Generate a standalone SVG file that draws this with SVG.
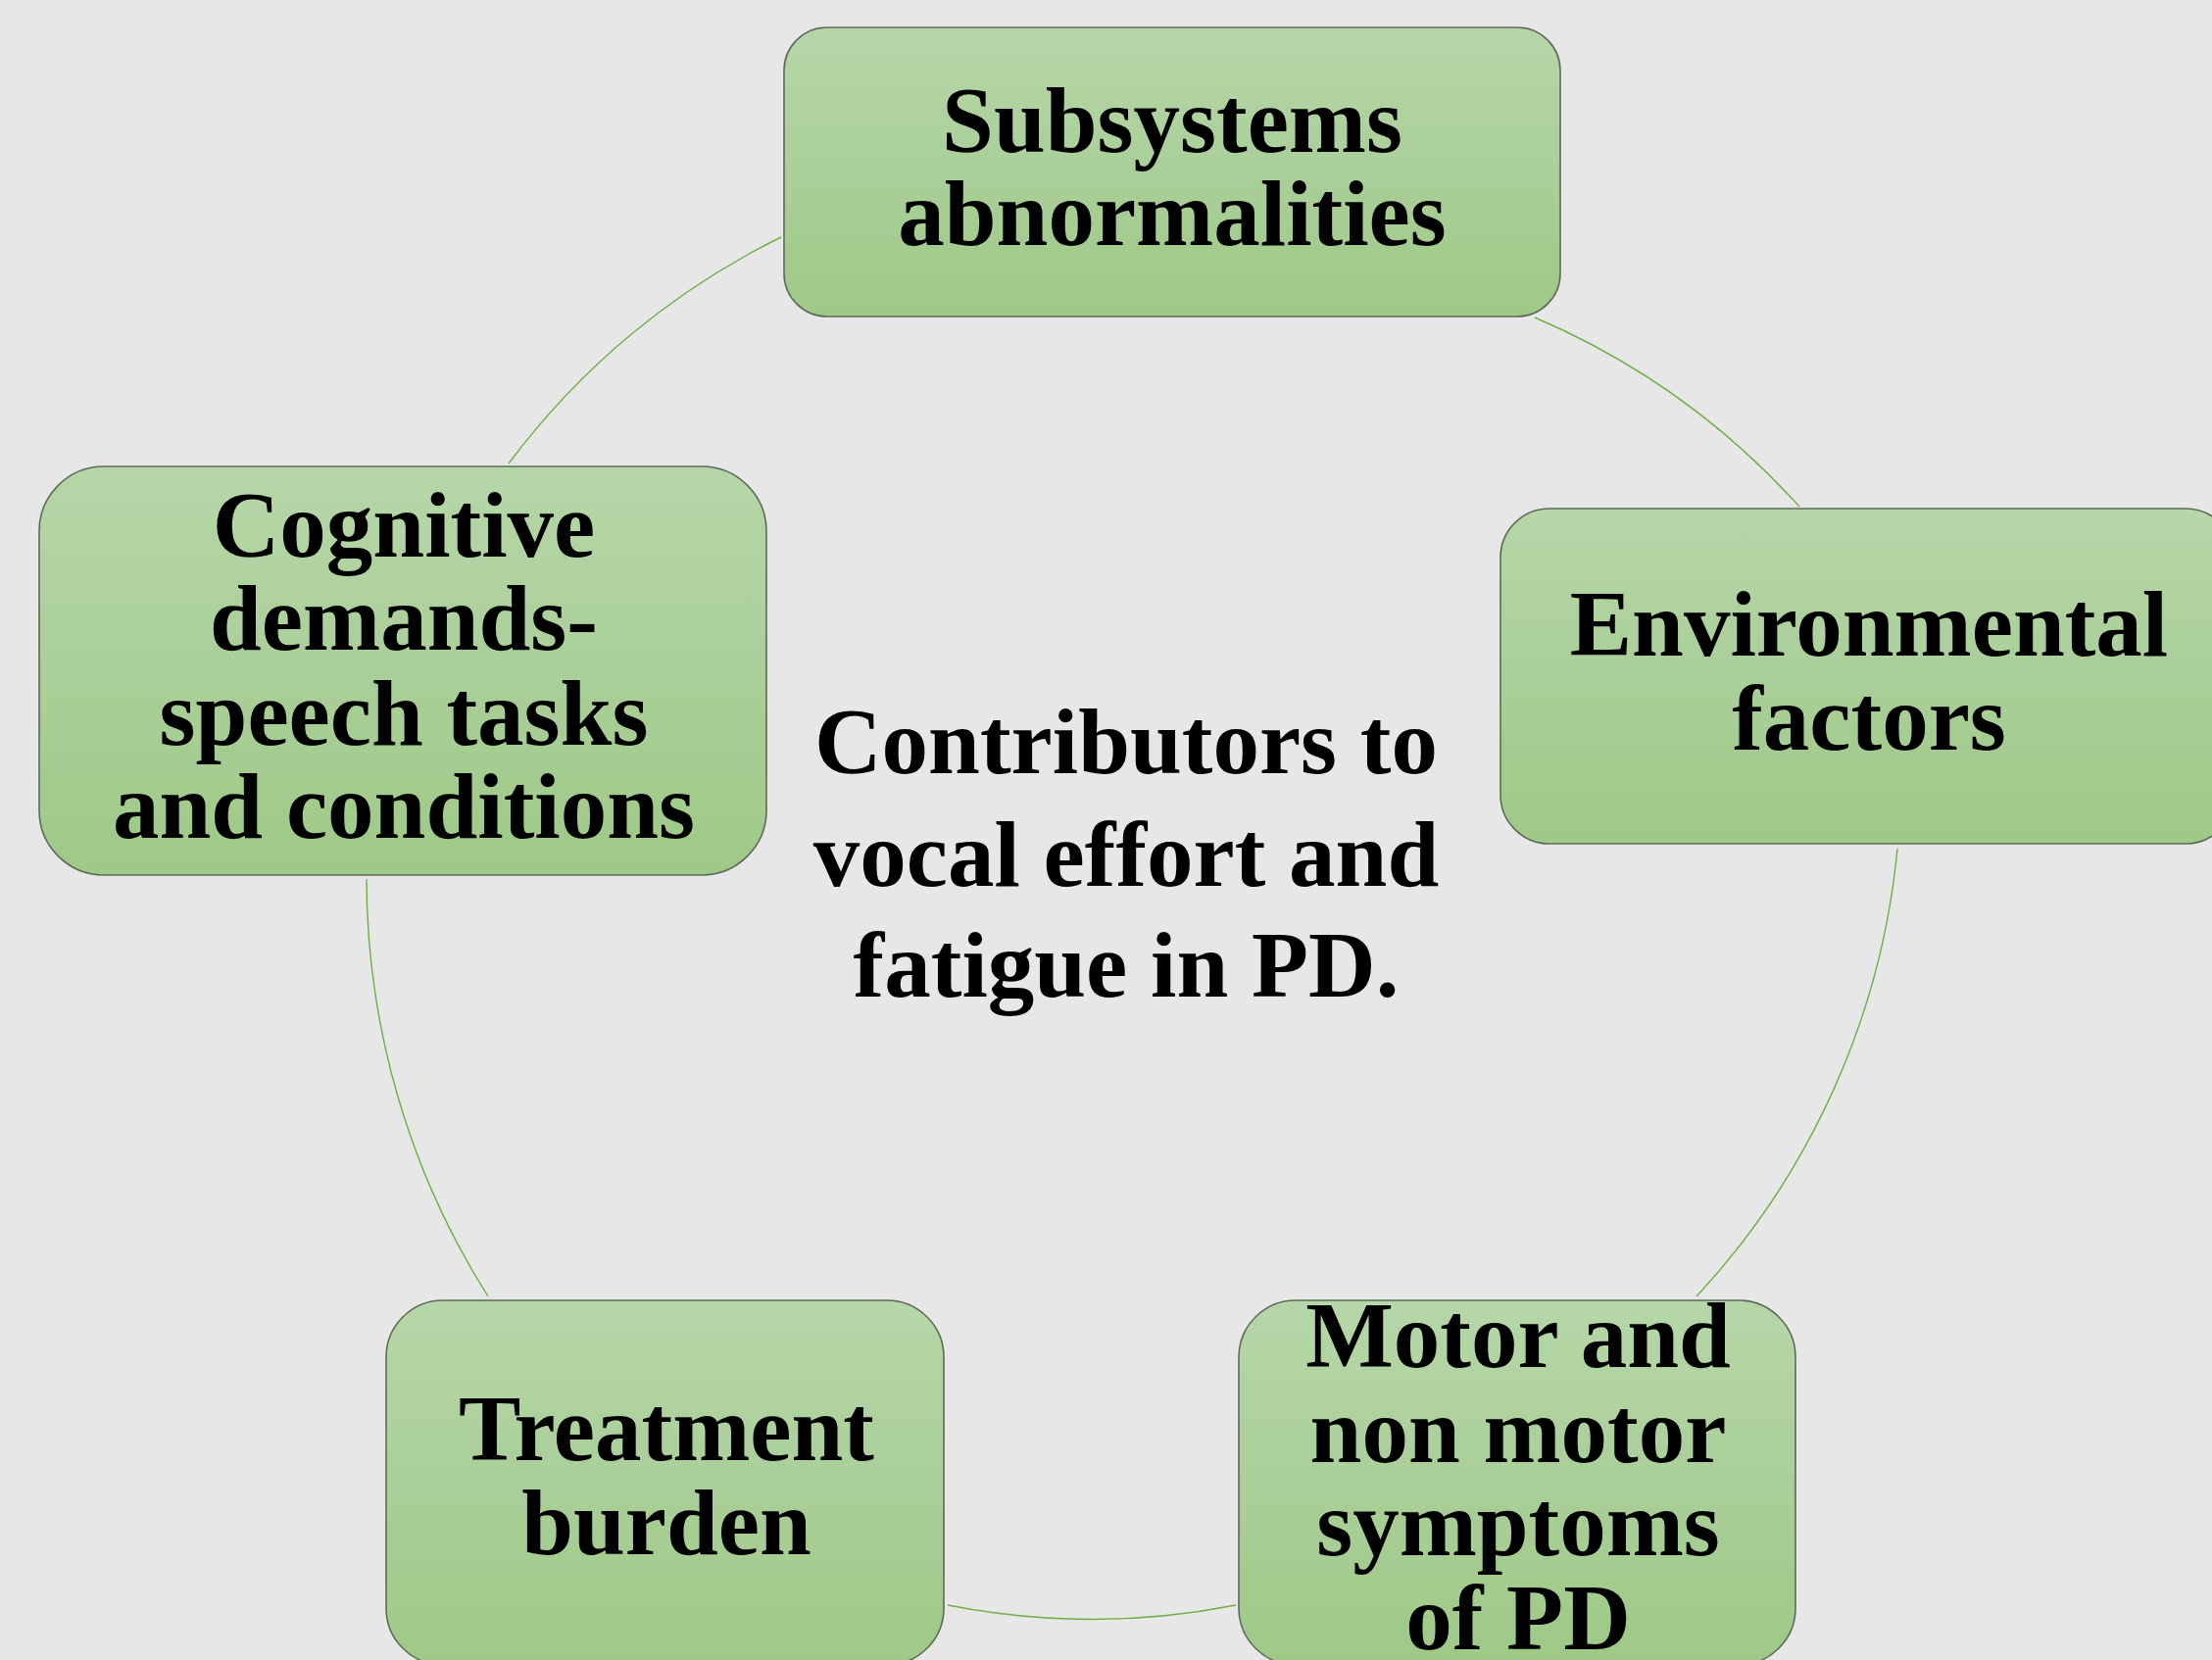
<svg xmlns="http://www.w3.org/2000/svg" width="2257" height="1694" viewBox="0 0 2257 1694">
<defs>
<linearGradient id="g" x1="0" y1="0" x2="0" y2="1">
<stop offset="0" stop-color="#b6d7a8"/>
<stop offset="0.5" stop-color="#aacf99"/>
<stop offset="1" stop-color="#9ec986"/>
</linearGradient>
<style>
.box{fill:url(#g);stroke:#5e6a58;stroke-width:1.6}
.t{font-family:"Liberation Serif","Times New Roman",serif;font-weight:bold;font-size:95px;fill:#000;text-anchor:middle}
.c{fill:none;stroke:#70ad47;stroke-width:1.4}
</style>
</defs>
<rect width="2257" height="1694" fill="#e7e7e7"/>
<g id="connectors">
<path class="c" d="M519,473 A770,770 0 0 1 797,242"/>
<path class="c" d="M1566,324 A770,770 0 0 1 1836,517"/>
<path class="c" d="M1936,866 A780,780 0 0 1 1731,1323"/>
<path class="c" d="M1261,1638 A760,760 0 0 1 967,1638"/>
<path class="c" d="M498,1323 A800,800 0 0 1 374,897"/>
</g>
<g id="center">
<text class="t" x="1149" y="789">Contributors to</text>
<text class="t" x="1149" y="904">vocal effort and</text>
<text class="t" x="1149" y="1017">fatigue in PD.</text>
</g>
<g id="subsystems">
<rect class="box" x="800" y="28" width="792" height="295" rx="44" ry="44"/>
<text class="t" x="1196" y="155">Subsystems</text>
<text class="t" x="1196" y="250">abnormalities</text>
</g>
<g id="environmental">
<rect class="box" x="1531" y="519" width="749" height="342" rx="50" ry="50"/>
<text class="t" x="1907" y="669">Environmental</text>
<text class="t" x="1907" y="765">factors</text>
</g>
<g id="motor">
<rect class="box" x="1264" y="1327" width="568" height="372" rx="58" ry="58"/>
<text class="t" x="1549" y="1395">Motor and</text>
<text class="t" x="1549" y="1492">non motor</text>
<text class="t" x="1549" y="1587">symptoms</text>
<text class="t" x="1549" y="1683">of PD</text>
</g>
<g id="treatment">
<rect class="box" x="394" y="1327" width="569" height="372" rx="58" ry="58"/>
<text class="t" x="680" y="1490">Treatment</text>
<text class="t" x="680" y="1586">burden</text>
</g>
<g id="cognitive">
<rect class="box" x="40" y="476" width="742" height="417" rx="66" ry="66"/>
<text class="t" x="412" y="568">Cognitive</text>
<text class="t" x="412" y="663">demands-</text>
<text class="t" x="412" y="760">speech tasks</text>
<text class="t" x="412" y="855">and conditions</text>
</g>
</svg>
